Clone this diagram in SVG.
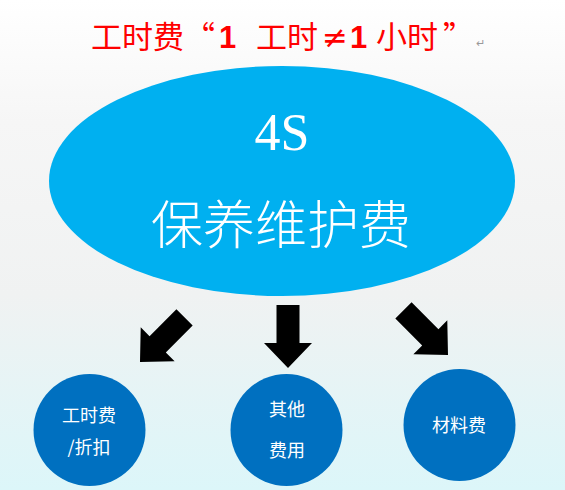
<svg xmlns="http://www.w3.org/2000/svg" width="565" height="490" viewBox="0 0 565 490">
<defs>
<linearGradient id="bg" x1="0" y1="0" x2="0" y2="1">
<stop offset="0" stop-color="#ffffff"/>
<stop offset="0.25" stop-color="#f6f6f6"/>
<stop offset="0.6" stop-color="#f0f2f2"/>
<stop offset="1" stop-color="#dcf6f9"/>
</linearGradient>
<polygon id="arr" points="-11.5,-63 11.5,-63 11.5,-25 24,-25 0,0 -24,-25 -11.5,-25"/>
</defs>
<style>
.title{font-family:"Noto Sans CJK SC","Liberation Sans",sans-serif;font-size:31px;fill:#ff0000}
.num{font-family:"Liberation Sans",Arial,sans-serif;font-weight:bold;font-size:31px;fill:#ff0000}
.ne{font-family:"DejaVu Sans",sans-serif;font-size:31px;fill:#ff0000}
.w{fill:#ffffff;text-anchor:middle}
.cj{font-family:"Noto Sans CJK SC",sans-serif}
.sm{font-size:18px}
.circ{fill:#0070c0}
</style>
<rect width="565" height="490" fill="url(#bg)"/>
<g id="title">
<text y="48"><tspan class="title" x="91">工时费</tspan><tspan class="title" x="184">“</tspan><tspan class="num" x="219">1</tspan><tspan class="title" x="256">工时</tspan><tspan class="ne" x="322">≠</tspan><tspan class="num" x="350">1</tspan><tspan class="title" x="376">小时</tspan><tspan class="title" x="443">”</tspan></text>
<text x="476" y="47" font-family="Liberation Sans,sans-serif" font-size="11" fill="#999">↵</text>
</g>
<g id="main">
<ellipse cx="282" cy="181" rx="233" ry="115" fill="#00b0f0"/>
<text class="w" x="282" y="150" font-family="Liberation Serif,serif" font-size="52">4S</text>
<text class="w cj" x="281" y="244" font-size="52" font-weight="300">保养维护费</text>
</g>
<g id="connectors">
<use href="#arr" transform="translate(140,362) rotate(45)"/>
<use href="#arr" transform="translate(288,368)"/>
<use href="#arr" transform="translate(448,355) rotate(-45)"/>
</g>
<g id="n1">
<circle class="circ" cx="89.5" cy="430" r="56"/>
<text class="w cj sm" x="89" y="422">工时费</text>
<text class="w cj sm" x="89" y="454">/折扣</text>
</g>
<g id="n2">
<circle class="circ" cx="286.5" cy="430" r="56"/>
<text class="w cj sm" x="287" y="416">其他</text>
<text class="w cj sm" x="287" y="457">费用</text>
</g>
<g id="n3">
<circle class="circ" cx="459.5" cy="425" r="56"/>
<text class="w cj sm" x="459" y="432">材料费</text>
</g>
</svg>
